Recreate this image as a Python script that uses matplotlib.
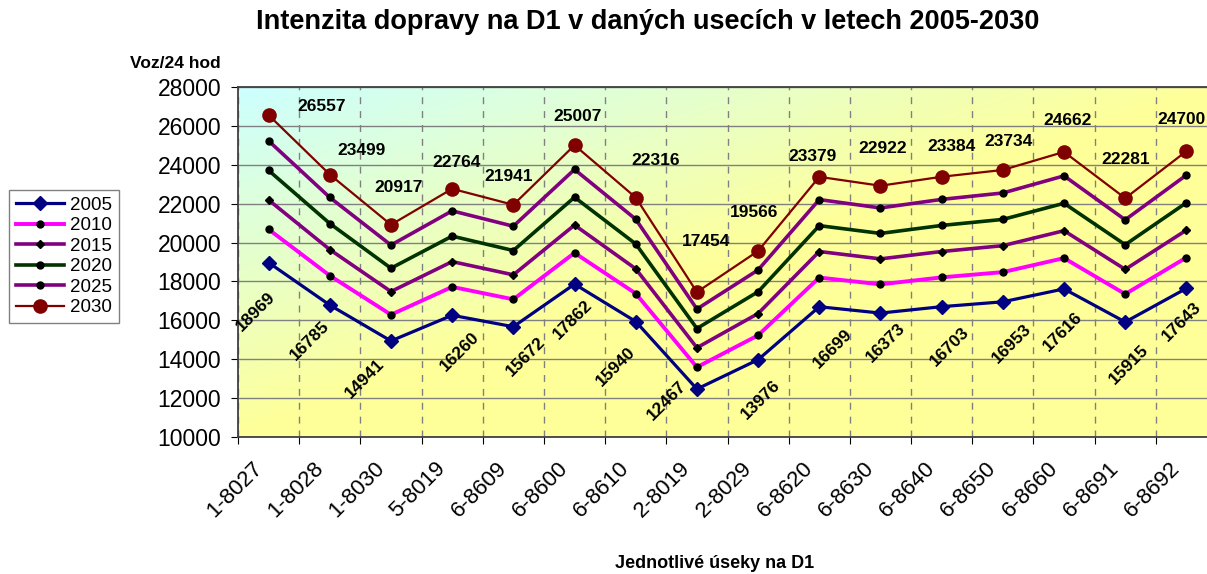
import numpy as np
import matplotlib
matplotlib.use("Agg")
import matplotlib.pyplot as plt
from matplotlib.transforms import ScaledTranslation

plt.rcParams["font.family"] = ["Liberation Sans", "DejaVu Sans"]

# Úseky D1
useky = ["1-8027", "1-8028", "1-8030", "5-8019", "6-8609", "6-8600", "6-8610", "2-8019",
         "2-8029", "6-8620", "6-8630", "6-8640", "6-8650", "6-8660", "6-8691", "6-8692"]

# Intenzita (voz/24 hod) podle roku
rok_2005 = [18969, 16785, 14941, 16260, 15672, 17862, 15940, 12467,
            13976, 16699, 16373, 16703, 16953, 17616, 15915, 17643]
rok_2010 = [20680, 18300, 16290, 17720, 17080, 19470, 17380, 13590,
            15230, 18200, 17850, 18210, 18480, 19200, 17350, 19230]
rok_2015 = [22190, 19640, 17480, 19020, 18340, 20900, 18650, 14590,
            16350, 19540, 19160, 19540, 19840, 20610, 18620, 20640]
rok_2020 = [23710, 20980, 18680, 20330, 19590, 22330, 19930, 15580,
            17470, 20870, 20470, 20880, 21190, 22020, 19890, 22050]
rok_2025 = [25230, 22320, 19870, 21630, 20840, 23760, 21200, 16580,
            18590, 22210, 21780, 22220, 22550, 23430, 21170, 23470]
rok_2030 = [26557, 23499, 20917, 22764, 21941, 25007, 22316, 17454,
            19566, 23379, 22922, 23384, 23734, 24662, 22281, 24700]

# posun popisku od bodu v pixelech (jako rucne posunute v Excelu)
posun_2005 = [(-13, -49), (-20, -36), (-26, -38), (8, -36), (12, -30), (-2, -36),
              (-20, -45), (-30, -12), (3, -40), (13, -42), (5, -30), (8, -40),
              (9, -42), (-1, -43), (4, -43), (-5, -33)]
posun_2030 = [(53, 9), (32, 24), (8, 37), (4, 26), (-5, 28), (3, 29),
              (20, 37), (9, 51), (-4, 38), (-7, 20), (2, 37), (10, 30),
              (6, 28), (4, 31), (0, 39), (-5, 32)]


def pozadi(ax):
    """Diagonalni prechod z azurove (vlevo nahore) do zlute."""
    u = np.linspace(0, 1, 400)[None, :]
    v = np.linspace(0, 1, 200)[:, None]
    t = np.clip(u + v, 0, 1)[..., None]
    azur = np.array([0.80, 1.0, 1.0])
    zluta = np.array([1.0, 1.0, 0.60])
    img = azur * (1 - t) + zluta * t
    ax.imshow(img, extent=[0, 1, 0, 1], transform=ax.transAxes,
              aspect="auto", origin="upper", zorder=-1)


fig = plt.figure(figsize=(12.07, 5.74), dpi=100)
# pravy okraj grafu je v originale oriznuty
ax = fig.add_axes([238 / 1207, 1 - 437 / 574, 979 / 1207, 350 / 574])
pozadi(ax)

x = np.arange(len(useky))

ax.plot(x, rok_2005, color="#000080", lw=2.3, marker="D", ms=7.5,
        mfc="#000080", mec="#000080", label="2005", zorder=5)
ax.plot(x, rok_2010, color="#FF00FF", lw=2.8, marker="o", ms=5,
        mfc="black", mec="black", label="2010", zorder=4)
ax.plot(x, rok_2015, color="#800080", lw=2.6, marker="D", ms=4.5,
        mfc="black", mec="black", label="2015", zorder=4)
ax.plot(x, rok_2020, color="#003300", lw=2.6, marker="o", ms=5,
        mfc="black", mec="black", label="2020", zorder=4)
ax.plot(x, rok_2025, color="#800080", lw=2.6, marker="o", ms=5,
        mfc="black", mec="black", label="2025", zorder=4)
ax.plot(x, rok_2030, color="#800000", lw=1.6, marker="o", ms=9.5,
        mfc="#800000", mec="#800000", label="2030", zorder=5)

# popisky hodnot
for xi, val, off in zip(x, rok_2005, posun_2005):
    ax.annotate(str(val), (xi, val), xytext=off, textcoords="offset pixels",
                rotation=45, ha="center", va="center", fontsize=12.5,
                fontweight="bold", zorder=6, annotation_clip=False)
for xi, val, off in zip(x, rok_2030, posun_2030):
    ax.annotate(str(val), (xi, val), xytext=off, textcoords="offset pixels",
                ha="center", va="center", fontsize=12.5, fontweight="bold",
                zorder=6, annotation_clip=False)

ax.set_xlim(-0.5, len(useky) - 0.5)
ax.set_ylim(10000, 28000)
ax.set_yticks(np.arange(10000, 28001, 2000))
ax.tick_params(axis="y", labelsize=16.5, length=5, direction="out", pad=7)

ax.set_xticks(np.arange(-0.5, len(useky)), minor=False)
ax.set_xticklabels([])
ax.set_xticks(x, minor=True)
ax.set_xticklabels(useky, minor=True, rotation=45, ha="right",
                   rotation_mode="anchor", fontsize=16)
ax.tick_params(axis="x", which="major", length=5, direction="out")
ax.tick_params(axis="x", which="minor", length=0, pad=12)
for lab in ax.get_xticklabels(minor=True):
    lab.set_transform(lab.get_transform() + ScaledTranslation(-0.17, -0.04, fig.dpi_scale_trans))

ax.grid(axis="y", color="#808080", lw=1.0, linestyle="-")
ax.grid(axis="x", which="major", color="#808080", lw=1.0, linestyle=(0, (5, 5)))
for s in ax.spines.values():
    s.set_color("#404040")
    s.set_linewidth(1.3)

fig.text(648 / 1207, 1 - 22 / 574, "Intenzita dopravy na D1 v daných usecích v letech 2005-2030",
         ha="center", va="center", fontsize=19.5, fontweight="bold")
fig.text(175 / 1207, 1 - 63 / 574, "Voz/24 hod", ha="center", va="center",
         fontsize=12.5, fontweight="bold")
fig.text(715 / 1207, 1 - 563 / 574, "Jednotlivé úseky na D1", ha="center", va="center",
         fontsize=13, fontweight="bold")

fig.legend(loc="upper left", bbox_to_anchor=(9 / 1207, 1 - 190 / 574), fontsize=13.5,
           frameon=True, fancybox=False, edgecolor="#808080", framealpha=1,
           borderaxespad=0, handlelength=2.6, labelspacing=0.18, borderpad=0.35,
           handletextpad=0.3)

plt.savefig("out.png", dpi=100)
